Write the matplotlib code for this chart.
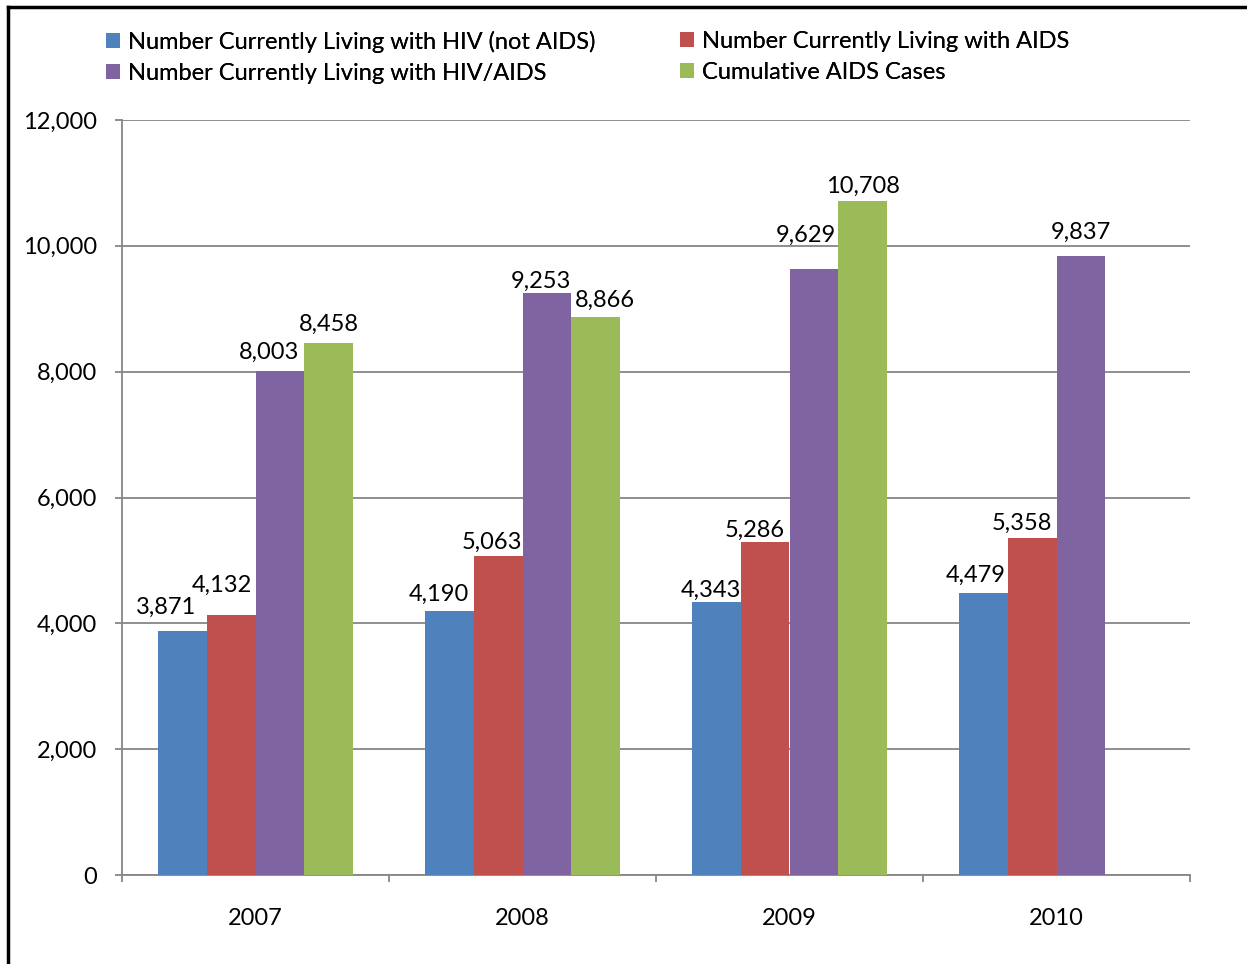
import numpy as np
import matplotlib
matplotlib.use("Agg")
import matplotlib.pyplot as plt
from matplotlib.lines import Line2D
from matplotlib.patches import Patch

years = ["2007", "2008", "2009", "2010"]
hiv_not_aids = [3871, 4190, 4343, 4479]
living_aids = [4132, 5063, 5286, 5358]
living_hiv_aids = [8003, 9253, 9629, 9837]
cumulative_aids = [8458, 8866, 10708, None]

series_names = [
    "Number Currently Living with HIV (not AIDS)",
    "Number Currently Living with AIDS",
    "Number Currently Living with HIV/AIDS",
    "Cumulative AIDS Cases",
]
colors = ["#4F81BD", "#C0504D", "#8064A2", "#9BBB59"]

# hand-placed data labels in the original: (dx, gap above bar) in pixels
label_nudge = [
    [(-17, 18), (-11, 11), (-6, 5), (-8, 11)],
    [(-9, 23), (-6, 8), (-10, 6), (-10, 8)],
    [(-11, 13), (-6, 5), (-8, 27), (0, 17)],
    [(0, 12), (10, 10), (1, 8), (0, 0)],
]

plt.rcParams["font.family"] = ["Lato", "DejaVu Sans"]
plt.rcParams["font.size"] = 17

W, H = 1247, 964
fig = plt.figure(figsize=(W / 100, H / 100), dpi=100)
ax = fig.add_axes([122 / W, 1 - 875 / H, (1190 - 122) / W, (875 - 120) / H])

x = np.arange(len(years))
width = 0.182
all_series = [hiv_not_aids, living_aids, living_hiv_aids, cumulative_aids]
for i, (vals, col) in enumerate(zip(all_series, colors)):
    pos = x + (i - 1.5) * width
    for j, (p, v) in enumerate(zip(pos, vals)):
        if v is None:
            continue
        ax.bar(p, v, width=width, color=col, edgecolor="none", zorder=3)
        dx, gap = label_nudge[i][j]
        ax.annotate(f"{v:,}", (p, v), xytext=(dx, gap), textcoords="offset pixels",
                    ha="center", va="baseline", fontsize=17, color="black")

grid_col = "#868686"
ax.set_ylim(0, 12000)
ax.set_xlim(-0.5, len(years) - 0.5)
ax.set_yticks(range(0, 12001, 2000))
ax.set_yticklabels([f"{t:,}" for t in range(0, 12001, 2000)])
ax.yaxis.grid(True, color=grid_col, linewidth=1.3, zorder=0)
ax.set_axisbelow(True)
ax.tick_params(axis="y", length=5, width=1.3, color=grid_col, pad=13, labelsize=17)

ax.set_xticks(x)
ax.set_xticklabels(years)
ax.set_xticks(np.arange(-0.5, len(years)), minor=True)
ax.tick_params(axis="x", which="major", length=0, pad=24, labelsize=17)
ax.tick_params(axis="x", which="minor", length=5, width=1.3, color=grid_col)

for s in ["top", "right"]:
    ax.spines[s].set_visible(False)
for s in ["left", "bottom"]:
    ax.spines[s].set_color(grid_col)
    ax.spines[s].set_linewidth(1.3)

handles = [Patch(facecolor=c, edgecolor="none") for c in colors]
leg_kw = dict(loc="upper left", frameon=False, fontsize=17, handlelength=0.6,
              handleheight=0.6, handletextpad=0.35, labelspacing=0.43,
              borderaxespad=0, borderpad=0)
for cols, left in [([0, 2], 106), ([1, 3], 680)]:
    leg = fig.legend([handles[i] for i in cols], [series_names[i] for i in cols],
                     bbox_to_anchor=(left / W, 1 - 31 / H), **leg_kw)
    fig.add_artist(leg)

# outer frame (left and top edges visible in the crop)
fig.add_artist(Line2D([8 / W, 8 / W], [0, 1 - 7 / H], transform=fig.transFigure,
                      color="black", linewidth=2.5))
fig.add_artist(Line2D([8 / W, 1], [1 - 7 / H, 1 - 7 / H], transform=fig.transFigure,
                      color="black", linewidth=2.5))

fig.savefig("out.png", dpi=100, facecolor="white")
